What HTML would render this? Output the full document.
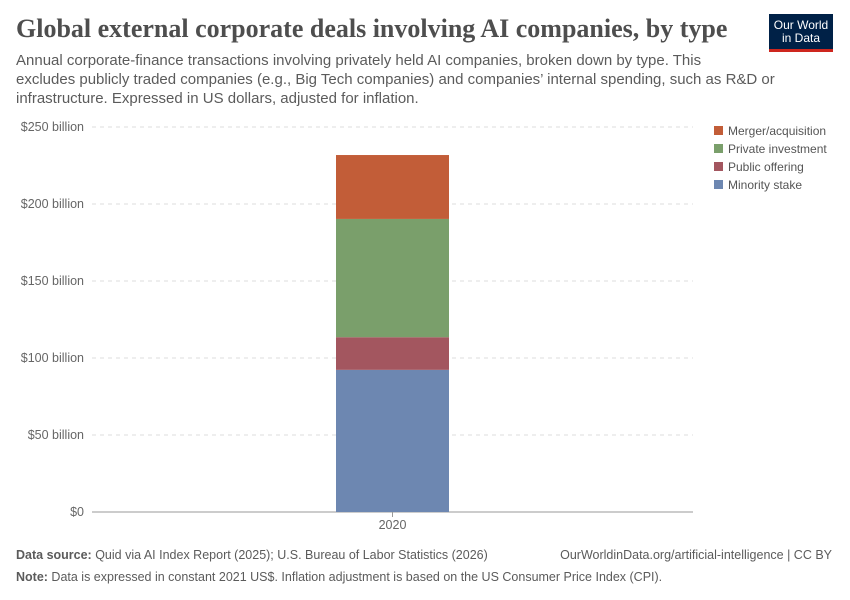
<!DOCTYPE html>
<html><head><meta charset="utf-8"><style>
body{margin:0;width:850px;height:600px;background:#fff;font-family:"Liberation Sans",sans-serif;position:relative;overflow:hidden}
.t{position:absolute;margin:0}
</style></head><body>
<h1 class="t" style="left:16px;top:14px;font-family:'Liberation Serif',serif;font-size:26px;font-weight:bold;color:#4e4e4e;letter-spacing:0px">Global external corporate deals involving AI companies, by type</h1>
<div class="t" style="left:16px;top:51px;width:800px;font-size:15px;line-height:19px;color:#5b5b5b;white-space:nowrap">Annual corporate-finance transactions involving privately held AI companies, broken down by type. This<br>excludes publicly traded companies (e.g., Big Tech companies) and companies’ internal spending, such as R&amp;D or<br>infrastructure. Expressed in US dollars, adjusted for inflation.</div>
<div class="t" style="left:769px;top:14px;width:64px;height:38px;background:#002147;border-bottom:3px solid #ce261e;color:#fff;font-size:12px;line-height:13px;text-align:center;padding-top:5px;box-sizing:border-box">Our World<br>in Data</div>
<svg id="chart" width="850" height="600" style="position:absolute;left:0;top:0"></svg>
<div class="t" style="left:16px;top:548px;font-size:12.5px;color:#5b5b5b"><b>Data source:</b> Quid via AI Index Report (2025); U.S. Bureau of Labor Statistics (2026)</div>
<div class="t" style="right:18px;top:548px;font-size:12.5px;color:#5b5b5b">OurWorldinData.org/artificial-intelligence | CC BY</div>
<div class="t" style="left:16px;top:570px;font-size:12.5px;color:#5b5b5b"><b>Note:</b> Data is expressed in constant 2021 US$. Inflation adjustment is based on the US Consumer Price Index (CPI).</div>
<script>
const categories=["2020"];
const seriesNames=["Minority stake","Public offering","Private investment","Merger/acquisition"];
const minorityStake=[92.3];
const publicOffering=[21.2];
const privateInvestment=[76.8];
const mergerAcquisition=[41.5];
const tickValues=[0,50,100,150,200,250];
const tickLabels=["$0","$50 billion","$100 billion","$150 billion","$200 billion","$250 billion"];
const colors=["#6d87b1","#a3565f","#7a9f6b","#c25d38"];
const ns="http://www.w3.org/2000/svg";
const svg=document.getElementById('chart');
const y0=512,y1=127,xL=92,xR=693;
const y=v=>y0-(v/250)*(y0-y1);
function mk(t,a){const e=document.createElementNS(ns,t);for(const k in a)e.setAttribute(k,a[k]);svg.appendChild(e);return e;}
tickValues.forEach((v,i)=>{
 if(v>0){const l=mk('line',{x1:xL,x2:xR,y1:y(v),y2:y(v),stroke:'#ddd','stroke-dasharray':'4,4'});
 
 }
 const t=mk('text',{x:84,y:y(v)+4,'text-anchor':'end','font-size':'12.5','fill':'#666','font-family':'Liberation Sans,sans-serif'});
 t.textContent=tickLabels[i];
 
 
});
const ax=mk('line',{x1:xL,x2:xR,y1:y0,y2:y0,stroke:'#999'});


const series=[minorityStake,publicOffering,privateInvestment,mergerAcquisition];
const bw=113,band=(xR-xL)/categories.length;
categories.forEach((c,i)=>{
 const cx=xL+band*(i+0.5);let acc=0;
 series.forEach((s,j)=>{
  const r=mk('rect',{x:cx-bw/2,y:y(acc+s[i]),width:bw,height:y(acc)-y(acc+s[i]),fill:colors[j]});
  
  
  acc+=s[i];
 });
 mk('line',{x1:cx,x2:cx,y1:y0,y2:y0+5,stroke:'#999'});
 const t=mk('text',{x:cx,y:y0+17,'text-anchor':'middle','font-size':'12.5','fill':'#666','font-family':'Liberation Sans,sans-serif'});
 t.textContent=c;
 
 
});
[3,2,1,0].forEach((j,k)=>{
 const yy=131+k*18;
 const r=mk('rect',{x:714,y:yy-5,width:9,height:9,fill:colors[j]});
 
 
 const t=mk('text',{x:728,y:yy+4,'font-size':'12','fill':'#555','font-family':'Liberation Sans,sans-serif'});
 t.textContent=seriesNames[j];
 
 
});
</script>
</body></html>
